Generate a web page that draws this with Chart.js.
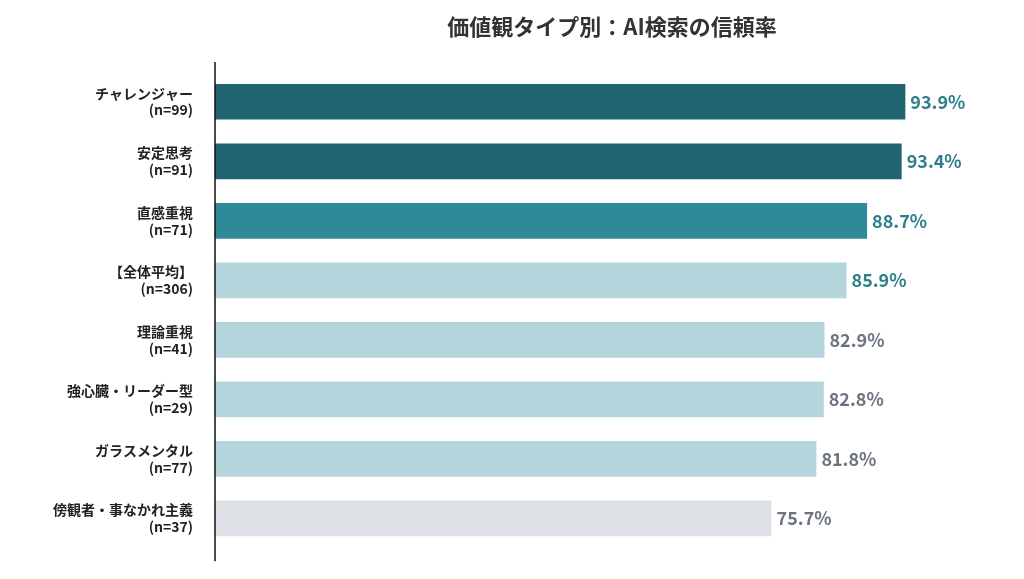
<!DOCTYPE html>
<html>
<head>
<meta charset="utf-8">
<script src="https://cdn.jsdelivr.net/npm/chart.js@4/dist/chart.umd.min.js"></script>
<style>
  body { margin: 0; background: #fff; }
  #wrap { width: 1024px; height: 579px; }
</style>
</head>
<body>
<div id="wrap"><canvas id="c"></canvas></div>
<script>
// categories and values
var typeNames = ["チャレンジャー", "安定思考", "直感重視", "【全体平均】", "理論重視", "強心臓・リーダー型", "ガラスメンタル", "傍観者・事なかれ主義"];
var sampleSizes = ["(n=99)", "(n=91)", "(n=71)", "(n=306)", "(n=41)", "(n=29)", "(n=77)", "(n=37)"];
var trustRates = [93.9, 93.4, 88.7, 85.9, 82.9, 82.8, 81.8, 75.7];
var titleText = "価値観タイプ別：AI検索の信頼率";

var barColors = ["#1f6470", "#1f6470", "#2e8a99", "#b3d5db", "#b3d5db", "#b3d5db", "#b3d5db", "#dde1e5"];
var valueColors = ["#2e7f8c", "#2e7f8c", "#2e7f8c", "#2e7f8c", "#6b7280", "#6b7280", "#6b7280", "#6b7280"];
var fontFam = "'Noto Sans CJK JP', 'Noto Sans', sans-serif";

var labels = typeNames.map((t, i) => [t, sampleSizes[i]]);

// draws title, the left axis line and the value labels
var extras = {
    id: "extras",
    afterDraw(chart) {
        var ctx = chart.ctx, a = chart.chartArea;
        ctx.save();
        ctx.fillStyle = "#333";
        ctx.font = "bold 22px " + fontFam;
        ctx.textAlign = "center";
        ctx.textBaseline = "middle";
        ctx.fillText(titleText, (a.left + a.right) / 2, 27);

        ctx.strokeStyle = "#111";
        ctx.lineWidth = 1.5;
        ctx.beginPath();
        ctx.moveTo(a.left, a.top - 10);
        ctx.lineTo(a.left, a.bottom + 13);
        ctx.stroke();

        var meta = chart.getDatasetMeta(0);
        ctx.font = "bold 18px " + fontFam;
        ctx.textAlign = "left";
        meta.data.forEach((bar, i) => {
            ctx.fillStyle = valueColors[i];
            ctx.fillText(trustRates[i].toFixed(1) + "%", bar.x + 5, bar.y);
        });
        ctx.restore();
    }
};

new Chart("c", {
    type: "bar",
    data: {
        labels: labels,
        datasets: [{
            data: trustRates,
            backgroundColor: barColors,
            barPercentage: 1,
            categoryPercentage: 0.6
        }]
    },
    options: {
        indexAxis: "y",
        responsive: true,
        maintainAspectRatio: false,
        animation: false,
        layout: { padding: { top: 72, bottom: 27, right: 15 } },
        plugins: { legend: { display: false }, tooltip: { enabled: false } },
        scales: {
            x: { display: false, min: 0, max: 108 },
            y: {
                grid: { display: false },
                border: { display: false },
                ticks: { color: "#222", font: { family: fontFam, size: 14, weight: "bold" }, padding: 14 },
                afterFit(s) { s.width = 215; }
            }
        }
    },
    plugins: [extras]
});
</script>
</body>
</html>
